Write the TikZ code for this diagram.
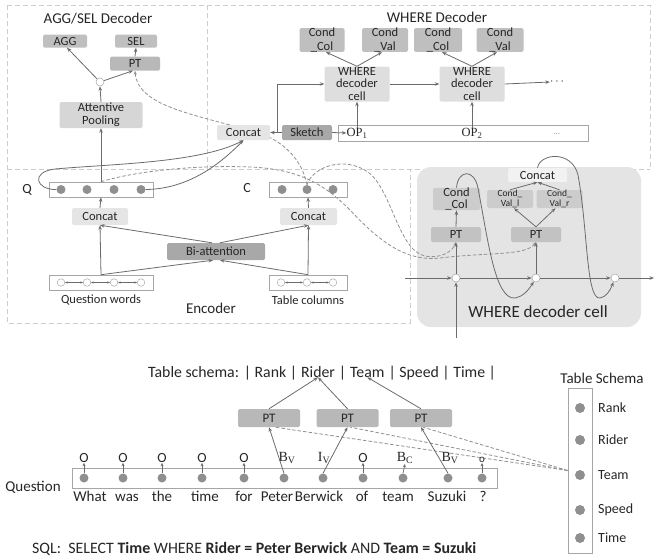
\documentclass[tikz,border=0pt]{standalone}
\usepackage{fontspec}
\setmainfont{Carlito}
\newfontfamily\serf{Liberation Serif}
\usetikzlibrary{arrows.meta,calc}
\pgfdeclarelayer{bgA}
\pgfdeclarelayer{bgB}
\pgfsetlayers{bgA,bgB,main}
\definecolor{lc}{gray}{0.42}
\definecolor{txt}{gray}{0.15}
\definecolor{bA}{gray}{0.75}
\definecolor{bPT}{gray}{0.72}
\definecolor{bAP}{gray}{0.84}
\definecolor{bCat}{gray}{0.90}
\definecolor{bDk}{gray}{0.66}
\definecolor{bCell}{gray}{0.87}
\definecolor{cellbg}{gray}{0.895}
\definecolor{bIC}{gray}{0.80}
\definecolor{bIPT}{gray}{0.76}
\definecolor{bICat}{gray}{0.95}
\definecolor{dotc}{gray}{0.56}
\newcommand{\myfs}[1]{\fontsize{#1}{#1}\selectfont}
\newcommand{\myfl}[2]{\fontsize{#1}{#2}\selectfont}
\begin{document}
\begin{tikzpicture}[x=1pt,y=-1pt,
  bx/.style={rounded corners=1.5pt, inner sep=0pt, align=center, text=txt, font=\myfs{12.5}},
  lbl/.style={inner sep=0pt, text=txt, font=\myfs{12.5}},
  ttl/.style={inner sep=0pt, text=txt, font=\myfs{15}},
  wd/.style={inner sep=0pt, text=txt, font=\myfs{15}},
  ar/.style={draw=lc, line width=0.8pt, -{Stealth[length=4.5pt,width=3.5pt]}},
  ars/.style={draw=lc, line width=0.7pt, -{Stealth[length=3.5pt,width=3pt]}},
  dbl/.style={draw=lc, line width=0.5pt, {Stealth[length=2.5pt,width=2pt]}-{Stealth[length=2.5pt,width=2pt]}},
  dl/.style={draw=lc!75, line width=0.8pt, dash pattern=on 3.5pt off 2pt},
  reg/.style={draw=gray!40, line width=0.7pt, dash pattern=on 5pt off 3pt},
  vec/.style={draw=gray!70, line width=0.6pt, inner sep=0pt},
  dot/.style={circle, fill=dotc, inner sep=0pt, minimum size=9pt},
  hc/.style={circle, draw=gray!70, fill=white, line width=0.5pt, inner sep=0pt, minimum size=8pt}]
\useasboundingbox (0,0) rectangle (654,560);

% ---------- region borders and cell background ----------
\begin{pgfonlayer}{bgA}
\draw[reg] (7,5) -- (650,5) -- (650,169);
\draw[reg] (7,5) -- (7,323) -- (410,323) -- (410,169);
\draw[reg] (7,169) -- (650,169);
\draw[reg] (207,5) -- (207,169);
\node[fill=cellbg, rounded corners=14pt, minimum width=224, minimum height=160, inner sep=0pt] (cellbg) at (529,247) {};
\end{pgfonlayer}

% ---------- AGG/SEL decoder ----------
\node[ttl] (tAS) at (98,19) {AGG/SEL Decoder};
\node[bx, fill=bA, minimum width=44, minimum height=13] (agg) at (65,41) {AGG};
\node[bx, fill=bA, minimum width=42, minimum height=13] (sel) at (136,41) {SEL};
\node[bx, fill=bPT, minimum width=50, minimum height=14] (ptsel) at (135,63.5) {PT};
\node[hc] (cs) at (100,82) {};
\node[bx, fill=bAP, minimum width=83, minimum height=26, font=\myfl{12.5}{13}] (ap) at (101,115) {Attentive\\Pooling};

% ---------- WHERE decoder ----------
\node[ttl] (tW) at (437,17) {WHERE Decoder};
\node[bx, fill=bA, minimum width=45, minimum height=22, font=\myfl{12.5}{13.5}] (cc1) at (322,40) {Cond\\\_Col};
\node[bx, fill=bA, minimum width=46, minimum height=22, font=\myfl{12.5}{13.5}] (cv1) at (385,40) {Cond\\\_Val};
\node[bx, fill=bA, minimum width=48, minimum height=22, font=\myfl{12.5}{13.5}] (cc2) at (438,40) {Cond\\\_Col};
\node[bx, fill=bA, minimum width=47, minimum height=22, font=\myfl{12.5}{13.5}] (cv2) at (500,40) {Cond\\\_Val};
\node[bx, fill=bCell, minimum width=65, minimum height=35, font=\myfl{12.5}{12.5}] (wc1) at (357,84) {WHERE\\decoder\\cell};
\node[bx, fill=bCell, minimum width=65, minimum height=35, font=\myfl{12.5}{12.5}] (wc2) at (472,84) {WHERE\\decoder\\cell};
\node[lbl] (wdots) at (557,82) {$\cdots$};
\node[vec, minimum width=250, minimum height=16] (opbox) at (463,133) {};
\node[bx, fill=bCat, minimum width=53, minimum height=15] (wcat) at (243.5,132.5) {Concat};
\node[bx, fill=bDk, minimum width=50, minimum height=15] (sk) at (307,132.5) {Sketch};
\node[lbl, font=\serf\myfs{12.5}] (op1) at (357,133) {OP\textsubscript{1}};
\node[lbl, font=\serf\myfs{12.5}] (op2) at (472,133) {OP\textsubscript{2}};
\node[lbl, font=\myfs{8}, text=gray] (opd) at (557,134) {...};
\coordinate (jn) at ($(wcat.east)!0.6!(sk.west)$);

% ---------- Encoder ----------
\node[ttl] (tE) at (211,308) {Encoder};
\node[lbl, font=\myfs{14}] (ql) at (27,190) {Q};
\node[vec, minimum width=104, minimum height=15] (qv) at (101,189.5) {};
\foreach \i/\x in {1/61,2/87,3/114,4/141} \node[dot] (q\i) at (\x,189.5) {};
\node[lbl, font=\myfs{14}] (cl) at (247,188) {C};
\node[vec, minimum width=78, minimum height=15] (cv) at (308,189.5) {};
\foreach \i/\x in {1/282,2/307,3/333} \node[dot] (c\i) at (\x,189.5) {};
\node[bx, fill=bCat, minimum width=56, minimum height=17] (qcat) at (100,216.5) {Concat};
\node[bx, fill=bCat, minimum width=57, minimum height=17] (ccat) at (308.5,216.5) {Concat};
\node[bx, fill=bDk, minimum width=98, minimum height=17] (bi) at (216,251.5) {Bi-attention};
\node[vec, minimum width=104, minimum height=15] (qw) at (101,282.5) {};
\foreach \i/\x in {1/61,2/87,3/114,4/141} \node[hc, minimum size=7.5pt] (w\i) at (\x,282.5) {};
\node[vec, minimum width=78, minimum height=15] (tcb) at (308,282.5) {};
\foreach \i/\x in {1/281,2/307,3/333} \node[hc, minimum size=7.5pt] (t\i) at (\x,282.5) {};
\node[lbl] (qwl) at (101,300) {Question words};
\node[lbl] (tcl) at (308,300) {Table columns};

% ---------- WHERE decoder cell (detail) ----------
\node[bx, fill=bICat, minimum width=59, minimum height=14] (icat) at (537.5,175) {Concat};
\node[bx, fill=bIC, minimum width=47, minimum height=22, font=\myfl{12.5}{12}] (ccol) at (456.5,199) {Cond\\\_Col};
\node[bx, fill=bIC, minimum width=46, minimum height=18, font=\myfl{9.5}{10}] (cvl) at (510,199) {Cond\_\\Val\_l};
\node[bx, fill=bIC, minimum width=46, minimum height=18, font=\myfl{9.5}{10}] (cvr) at (559.5,199) {Cond\_\\Val\_r};
\node[bx, fill=bIPT, minimum width=50, minimum height=15] (pt1) at (456,234.5) {PT};
\node[bx, fill=bIPT, minimum width=50, minimum height=15] (pt2) at (536,234.5) {PT};
\node[hc] (k1) at (456,278) {};
\node[hc] (k2) at (536,278) {};
\node[hc] (k3) at (615,278) {};
\node[lbl, font=\myfs{17}] (tcell) at (538,312) {WHERE decoder cell};
\coordinate (hin) at (405,278);
\coordinate (hout) at (654,278);
\coordinate (vin) at (456,338);

% ---------- bottom example ----------
\node[wd, anchor=base west, font=\myfs{15.8}] (ts0) at (148,377) {Table schema: | Rank |\ \mbox{}};
\node[wd, anchor=base west, font=\myfs{15.8}] (tsRider) at (ts0.base east) {Rider};
\node[wd, anchor=base west, font=\myfs{15.8}] (ts1) at (tsRider.base east) {\mbox{}\ |\ \mbox{}};
\node[wd, anchor=base west, font=\myfs{15.8}] (tsTeam) at (ts1.base east) {Team};
\node[wd, anchor=base west, font=\myfs{15.8}] (ts2) at (tsTeam.base east) {\mbox{}\ | Speed | Time |};
\node[bx, fill=bPT, minimum width=62, minimum height=18, font=\myfs{13}] (pta) at (269,418) {PT};
\node[bx, fill=bPT, minimum width=62, minimum height=18, font=\myfs{13}] (ptb) at (347.5,418) {PT};
\node[bx, fill=bPT, minimum width=62, minimum height=18, font=\myfs{13}] (ptc) at (421,418) {PT};
\node[wd] (qlab) at (33,487) {Question};
\node[vec, minimum width=425, minimum height=20] (qbox) at (284.5,478) {};
\foreach \i/\x in {1/84,2/123,3/162,4/202,5/244,6/284,7/323,8/363,9/403,10/448,11/482}
  \node[dot] (d\i) at (\x,478) {};
\foreach \i/\x/\w in {1/90/What,2/127/was,3/162/the,4/205/time,5/244/for,6/277/Peter,7/319/Berwick,8/362/of,9/398/team,10/447/Suzuki,11/483/?}
  \node[wd, anchor=base] (wd\i) at (\x,501) {\w};
\foreach \i/\x in {1/84,2/123,3/162,4/202,5/244,8/363}
  \node[wd, font=\myfs{14}] (tg\i) at (\x,458) {O};
\node[wd, font=\serf\myfs{14}] (tg6) at (287,458) {B\textsubscript{V}};
\node[wd, font=\serf\myfs{14}] (tg7) at (324,458) {I\textsubscript{V}};
\node[wd, font=\serf\myfs{14}] (tg9) at (405,458) {B\textsubscript{C}};
\node[wd, font=\serf\myfs{14}] (tg10) at (450,458) {B\textsubscript{V}};
\node[wd, font=\myfs{11}] (tg11) at (482,460) {o};
\node[wd] (tsT) at (602,378) {Table Schema};
\node[vec, minimum width=24, minimum height=165] (tsb) at (580,470.5) {};
\foreach \i/\y/\w in {1/408/Rank,2/440/Rider,3/475/Team,4/510/Speed,5/538/Time}{
  \node[dot, minimum size=10pt] (s\i) at (580,\y) {};
  \node[wd, anchor=west, font=\myfs{14}] (sl\i) at (598,\y) {\w};}
\node[wd, anchor=west, font=\myfs{15.9}] (sql) at (32,549) {SQL:\ \ SELECT \textbf{Time} WHERE \textbf{Rider = Peter Berwick} AND \textbf{Team = Suzuki}};

% ---------- dashed connectors ----------
\begin{pgfonlayer}{bgB}
\draw[dl, -{Stealth[length=4pt,width=3pt]}] (c2.north) .. controls (303,165) and (290,145) .. (262,134)
   .. controls (200,115) and (138,108) .. (ptsel.south);
\draw[dl, -{Stealth[length=4pt,width=3pt]}] (qv.north) .. controls (140,170) and (200,165) .. (250,167)
   .. controls (300,169) and (325,185) .. (350,210) .. controls (378,240) and (405,262) .. (440,258)
   .. controls (490,252) and (525,256) .. (pt2.south);
\draw[dl, -{Stealth[length=4pt,width=3pt]}] (c2.north) .. controls (313,166) and (345,156) .. (368,172)
   .. controls (392,190) and (398,250) .. (425,256) .. controls (440,259) and (452,252) .. (pt1.south);
\draw[dl] (tsb.west) -- ($(pta.south)+(6,0)$);
\draw[dl] (tsb.west) -- ($(ptb.south)+(3,0)$);
\draw[dl] (tsb.west) -- ($(ptc.south)+(2,0)$);
\end{pgfonlayer}

% ---------- solid connectors ----------
\draw[ar] (qv.north) -- (ap.south);
\draw[ar] (ap.north) -- (cs.south);
\draw[ar] (cs) -- ($(agg.south)+(2,0)$);
\draw[ar] (cs) -- ($(ptsel.south)+(-2,0)$);
\draw[ar] (ptsel.north) -- (sel.south);
\draw[ar] (q1.west) .. controls (36,190) and (30,172) .. (55,169)
   .. controls (110,164) and (200,163) .. (wcat.south);
\draw[ar] (q4.east) .. controls (190,189) and (222,162) .. (wcat.south);
\draw[ar] (sk.west) -- (wcat.east);
\draw[ar] (jn) |- (wc1.west);
\draw[ar] (sk.east) -- (op1.west);
\draw[ar] (op1.north) -- (wc1.south);
\draw[ar] (op2.north) -- (wc2.south);
\draw[ar] (wc1.east) -- (wc2.west);
\draw[ar] (wc2.east) -- (wdots.west);
\draw[ar] (wc1.north) -- ($(cc1.south)+(4,0)$);
\draw[ar] (wc1.north) -- ($(cv1.south)+(-3,0)$);
\draw[ar] (wc2.north) -- ($(cc2.south)+(4,0)$);
\draw[ar] (wc2.north) -- ($(cv2.south)+(-3,0)$);
\draw[ar] (qcat.north) -- (qv.south);
\draw[ar] (ccat.north) -- (cv.south);
\draw[ar] (qw.north) -- (qcat.south);
\draw[ar] (qw.north) -- ($(bi.south)+(-3,0)$);
\draw[ar] ($(bi.north)+(-4,0)$) -- (qcat.south);
\draw[ar] (tcb.north) -- (ccat.south);
\draw[ar] (tcb.north) -- ($(bi.south)+(4,0)$);
\draw[ar] ($(bi.north)+(4,0)$) -- (ccat.south);
\foreach \a/\b in {1/2,2/3,3/4} \draw[dbl] (w\a) -- (w\b);
\foreach \a/\b in {1/2,2/3} \draw[dbl] (t\a) -- (t\b);
% cell
\draw[ar] (pt1.north) -- (ccol.south);
\draw[ar] (pt2.north) -- ($(cvl.south)+(4,0)$);
\draw[ar] (pt2.north) -- ($(cvr.south)+(-4,0)$);
\draw[ar] (cvl.north) -- (icat.south);
\draw[ar] (cvr.north) -- (icat.south);
\draw[ar] (hin) -- (k1);
\draw[ar] (k1) -- (k2);
\draw[ar] (k2) -- (k3);
\draw[ar] (k3) -- (hout);
\draw[ar] (vin) -- (k1);
\draw[ar] (k1) -- (pt1.south);
\draw[ar] (k2) -- (pt2.south);
\draw[ar] (ccol.north) .. controls (458,170) and (474,168) .. (478,188)
   .. controls (488,240) and (495,300) .. (515,298) .. controls (522,297) and (528,291) .. (k2);
\draw[ar] (icat.north) .. controls (540,153) and (572,150) .. (578,175)
   .. controls (588,230) and (586,300) .. (600,298) .. controls (606,297) and (610,291) .. (k3);
% bottom
\draw[ar] (pta.north) -- (tsRider.south);
\draw[ar] (ptb.north) -- (tsRider.south);
\draw[ar] (ptc.north) -- (tsTeam.south);
\foreach \i in {1,2,3,4,5,8,9,11} \draw[ars] (d\i.north) -- (tg\i.south);
\draw[ar] (d6.north) -- (pta.south);
\draw[ar] (d7.north) -- (ptb.south);
\draw[ar] (d10.north) -- (ptc.south);
\end{tikzpicture}
\end{document}
